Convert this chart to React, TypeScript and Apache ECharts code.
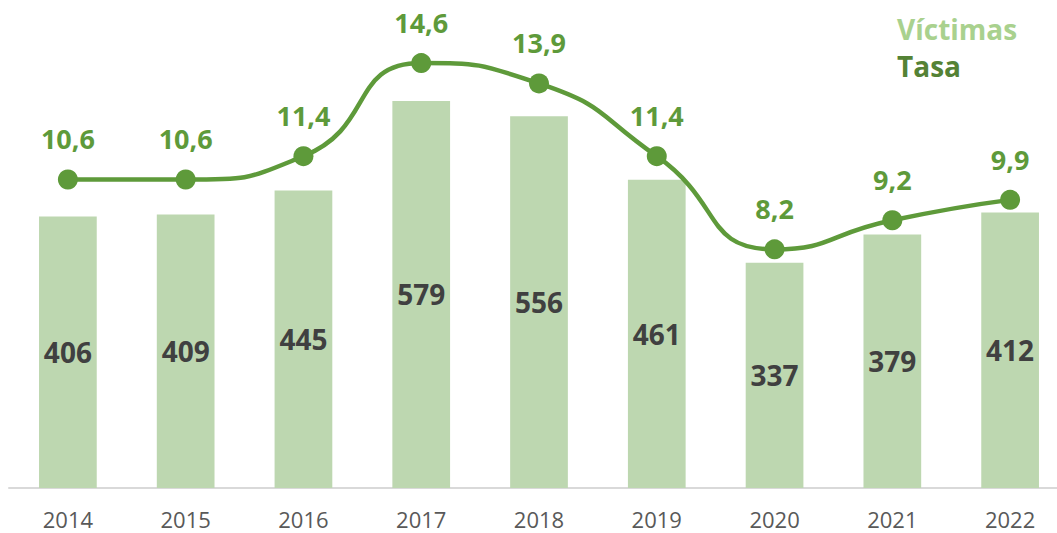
import React, { useEffect, useRef } from "react";
import * as echarts from "echarts";

const years = ["2014", "2015", "2016", "2017", "2018", "2019", "2020", "2021", "2022"];
const victimas = [406, 409, 445, 579, 556, 461, 337, 379, 412];
const tasa = [10.6, 10.6, 11.4, 14.6, 13.9, 11.4, 8.2, 9.2, 9.9];

const FONT = "'Open Sans', 'Noto Sans', sans-serif";
const LINE_COLOR = "#5e9a3a";
const BAR_COLOR = "#bdd7b0";

export default function App() {
  const ref = useRef<HTMLDivElement>(null);
  useEffect(() => {
    document.body.style.margin = "0";
    const chart = echarts.init(ref.current!, null, { renderer: "svg" });
    chart.setOption({
      animation: false,
      backgroundColor: "#ffffff",
      grid: { left: 9, right: -12, top: 20, bottom: 45, outerBoundsMode: "none", containLabel: false },
      xAxis: {
        type: "category",
        data: years,
        axisTick: { show: false },
        axisLine: { lineStyle: { color: "#d9d9d9", width: 2 } },
        axisLabel: { color: "#595959", fontSize: 22, lineHeight: 20, fontFamily: FONT, margin: 21 },
      },
      yAxis: [
        { type: "value", min: 0, max: 700, show: false, splitLine: { show: false } },
        { type: "value", min: 0, max: 16.08, show: false, splitLine: { show: false } },
      ],
      graphic: [
        {
          type: "text",
          left: 897,
          top: 15,
          style: { text: "Víctimas", fill: "#a9d18e", font: `700 28px ${FONT}` },
        },
        {
          type: "text",
          left: 897,
          top: 52,
          style: { text: "Tasa", fill: "#548235", font: `700 28px ${FONT}` },
        },
      ],
      series: [
        {
          name: "Víctimas",
          type: "bar",
          data: victimas,
          barWidth: "49%",
          itemStyle: { color: BAR_COLOR },
          label: {
            show: true,
            position: "inside",
            color: "#404040",
            fontSize: 28,
            fontWeight: 700,
            fontFamily: FONT,
          },
        },
        {
          name: "Tasa",
          type: "line",
          yAxisIndex: 1,
          data: tasa,
          smooth: 0.55,
          symbol: "circle",
          symbolSize: 20,
          lineStyle: { color: LINE_COLOR, width: 4.5 },
          itemStyle: { color: LINE_COLOR },
          label: {
            show: true,
            position: "top",
            distance: 17,
            color: LINE_COLOR,
            fontSize: 27,
            fontWeight: 700,
            fontFamily: FONT,
            formatter: (p: any) => String(p.value).replace(".", ","),
          },
        },
      ],
    });
    return () => chart.dispose();
  }, []);
  return <div ref={ref} style={{ width: 1057, height: 533 }} />;
}
